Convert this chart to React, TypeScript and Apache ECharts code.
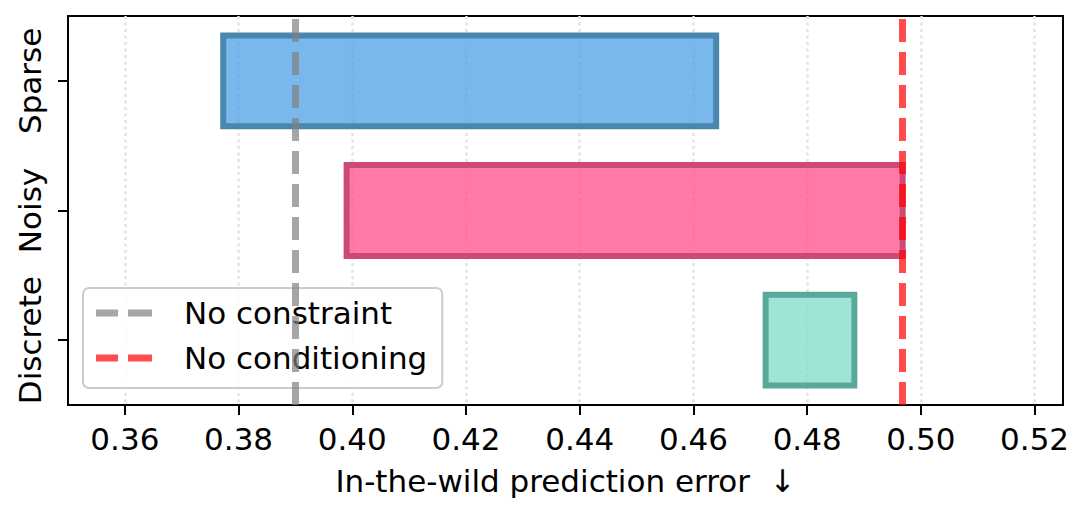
import React, { useEffect, useRef } from "react";
import * as echarts from "echarts";

const categories = ["Discrete", "Noisy", "Sparse"];
const lowValues = [0.4727, 0.399, 0.3773];
const highValues = [0.4883, 0.4968, 0.464];
const xTicks = [0.36, 0.38, 0.4, 0.42, 0.44, 0.46, 0.48, 0.5, 0.52];
const noConstraint = 0.39;
const noConditioning = 0.4968;

const fillColors = ["rgba(128,219,203,0.75)", "rgba(255,79,136,0.75)", "rgba(75,160,230,0.75)"];
const edgeColors = ["#5aa89c", "#cc4a75", "#4a86ae"];

const FONT = "DejaVu Sans";
const FS = 31;
const DASH_ICON = "path://M0,0h22v7h-22z M32,0h24v7h-24z";

export default function App() {
  const ref = useRef<HTMLDivElement>(null);
  useEffect(() => {
    if (!ref.current) return;
    const chart = echarts.init(ref.current, null, { renderer: "svg" });
    const barData = categories.map((c, i) => [i, lowValues[i], highValues[i]]);
    const grayStyle = { color: "rgba(128,128,128,0.7)", width: 7, type: [23, 10] as any };
    const redStyle = { color: "rgba(255,0,0,0.7)", width: 7, type: [23, 10] as any };
    chart.setOption({
      animation: false,
      textStyle: { fontFamily: FONT },
      grid: {
        left: 68,
        right: 29,
        top: 16,
        bottom: 111,
        show: true,
        borderColor: "#000",
        borderWidth: 2,
        backgroundColor: "transparent",
      },
      xAxis: {
        type: "value",
        min: 0.35,
        max: 0.525,
        name: "In-the-wild prediction error  ↓",
        nameLocation: "middle",
        nameGap: 60,
        nameTextStyle: { fontSize: FS, color: "#000", fontFamily: FONT },
        axisLine: { show: true, lineStyle: { color: "#000", width: 2 } },
        axisTick: {
          show: true,
          customValues: xTicks,
          length: 10,
          lineStyle: { color: "#000", width: 2 },
        },
        axisLabel: {
          customValues: xTicks,
          formatter: (v: number) => v.toFixed(2),
          fontSize: FS,
          color: "#000",
          margin: 18,
          fontFamily: FONT,
        },
        splitLine: {
          show: true,
          lineStyle: { color: "#e3e3e3", width: 2.5, type: [3, 3.5] },
        },
      },
      yAxis: {
        type: "category",
        data: categories,
        axisLine: { show: true, lineStyle: { color: "#000", width: 2 } },
        axisTick: {
          show: true,
          alignWithLabel: true,
          length: 10,
          lineStyle: { color: "#000", width: 2 },
        },
        axisLabel: {
          rotate: 90,
          interval: 0,
          fontSize: FS,
          color: "#000",
          margin: 23,
          fontFamily: FONT,
        },
        splitLine: { show: false },
      },
      legend: {
        orient: "vertical",
        left: 83,
        top: 288,
        data: [
          { name: "No constraint", icon: DASH_ICON },
          { name: "No conditioning", icon: DASH_ICON },
        ],
        itemWidth: 56,
        itemHeight: 7,
        itemGap: 14,
        padding: [9.5, 15, 14.5, 13],
        backgroundColor: "rgba(255,255,255,0.8)",
        borderColor: "#cccccc",
        borderWidth: 2,
        borderRadius: 6,
        textStyle: {
          fontSize: FS,
          color: "#000",
          fontFamily: FONT,
          padding: [0, 0, 0, 27],
        },
        selectedMode: false,
      },
      series: [
        {
          type: "custom",
          name: "bars",
          data: barData,
          encode: { x: [1, 2], y: 0 },
          renderItem: (params: any, api: any) => {
            const yi = api.value(0);
            const lo = api.value(1);
            const hi = api.value(2);
            const p0 = api.coord([lo, yi]);
            const p1 = api.coord([hi, yi]);
            const h = api.size([0, 1])[1] * 0.7;
            return {
              type: "rect",
              shape: { x: p0[0], y: p0[1] - h / 2, width: p1[0] - p0[0], height: h },
              style: {
                fill: fillColors[params.dataIndex],
                stroke: edgeColors[params.dataIndex],
                lineWidth: 6,
              },
            };
          },
        },
        {
          type: "line",
          name: "No constraint",
          data: [],
          symbol: "none",
          lineStyle: grayStyle,
          itemStyle: { color: grayStyle.color },
          markLine: {
            silent: true,
            precision: 6,
            symbol: ["none", "none"],
            label: { show: false },
            lineStyle: grayStyle,
            data: [{ xAxis: noConstraint }],
          },
        },
        {
          type: "line",
          name: "No conditioning",
          data: [],
          symbol: "none",
          lineStyle: redStyle,
          itemStyle: { color: redStyle.color },
          markLine: {
            silent: true,
            precision: 6,
            symbol: ["none", "none"],
            label: { show: false },
            lineStyle: redStyle,
            data: [{ xAxis: noConditioning }],
          },
        },
      ],
    });
    return () => chart.dispose();
  }, []);
  return (
    <div
      ref={ref}
      style={{ position: "fixed", left: 0, top: 0, width: 1092, height: 516, background: "#fff" }}
    />
  );
}
